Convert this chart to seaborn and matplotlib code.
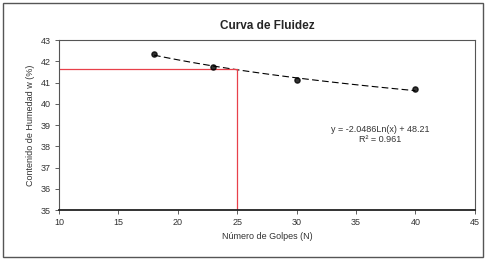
import matplotlib
matplotlib.use("Agg")
import matplotlib.pyplot as plt
import seaborn as sns
import pandas as pd
from matplotlib.patches import Rectangle

# Data
golpes = [18, 23, 30, 40]
humedad = [42.35, 41.75, 41.1, 40.7]
n_ref = 25
w_ref = 41.62
eq_text = "y = -2.0486Ln(x) + 48.21\nR² = 0.961"

df = pd.DataFrame({"golpes": golpes, "humedad": humedad})

sns.set_theme(style="ticks")
plt.rcParams['font.family'] = ['Liberation Sans', 'DejaVu Sans']

fig = plt.figure(figsize=(4.86, 2.6), dpi=100)
ax = fig.add_axes([0.1214, 0.1923, 0.8556, 0.6538])

sns.regplot(data=df, x="golpes", y="humedad", logx=True, ci=None, ax=ax,
            scatter_kws=dict(color="black", s=14, zorder=3),
            line_kws=dict(color="black", lw=0.8, ls=(0, (6, 3))))

# Red reference lines at N = 25
ax.plot([10, n_ref], [w_ref, w_ref], color="#e8404a", lw=0.9)
ax.plot([n_ref, n_ref], [35, w_ref], color="#e8404a", lw=0.9)

ax.text(37, 38.55, eq_text, ha="center", va="center", fontsize=6.5,
        color="#333333", linespacing=1.1)

ax.set_xlim(10, 45)
ax.set_ylim(35, 43)
ax.set_xticks(range(10, 46, 5))
ax.set_yticks(range(35, 44))
ax.tick_params(axis="both", labelsize=6.5, length=3, width=0.6,
               direction="out", color="#444444", labelcolor="#333333", pad=3)
for s in ax.spines.values():
    s.set_visible(True)
    s.set_color("#555555")
    s.set_linewidth(0.8)
ax.spines["bottom"].set_linewidth(1.3)
ax.spines["bottom"].set_color("#222222")

ax.set_xlabel("Número de Golpes (N)", fontsize=6.5, color="#333333", labelpad=3)
ax.set_ylabel("Contenido de Humedad w (%)", fontsize=6.5, color="#333333", labelpad=4)
ax.set_title("Curva de Fluidez", fontsize=8.5, fontweight="heavy", pad=8)

fig.patches.append(Rectangle((0.006, 0.012), 0.988, 0.976, transform=fig.transFigure,
                             fill=False, edgecolor="#555555", lw=1.0))

fig.savefig("out.png", dpi=100)
